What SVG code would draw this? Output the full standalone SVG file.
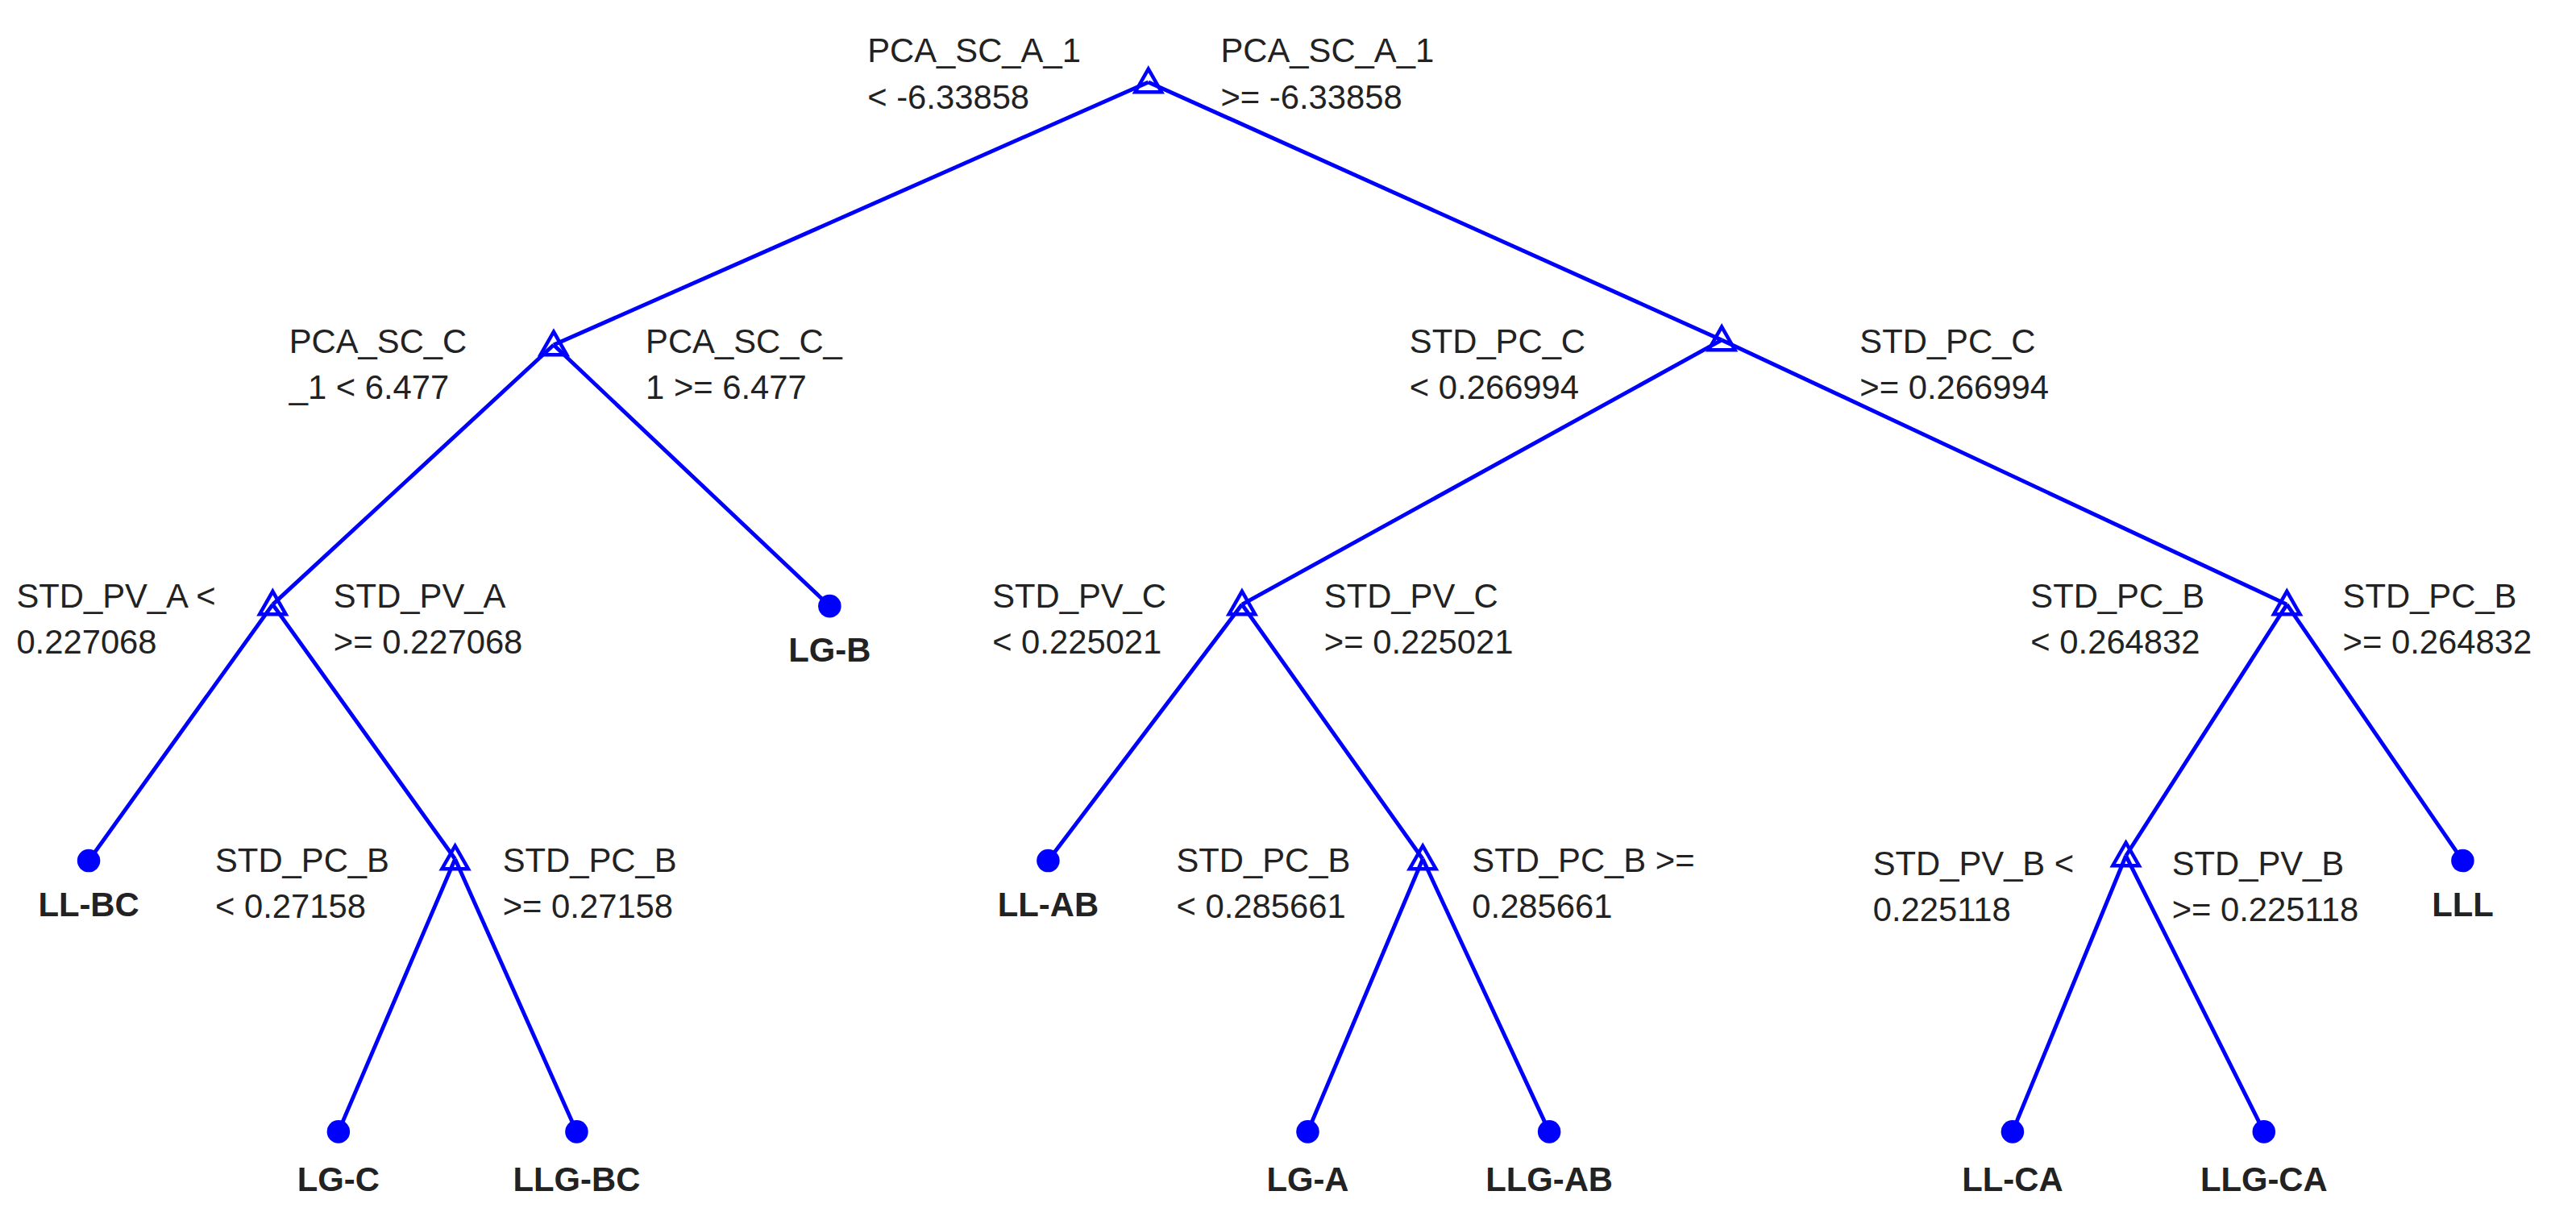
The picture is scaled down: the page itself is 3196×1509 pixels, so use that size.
<svg xmlns="http://www.w3.org/2000/svg" width="3196" height="1509" viewBox="0 0 3196 1509">
<style>
.e{stroke:#0000ff;stroke-width:2.4;fill:none}
.t{fill:none;stroke:#0000ff;stroke-width:2.2}
.d{fill:#0000ff}
text{font-family:"Liberation Sans",Arial,sans-serif;font-size:20.5px;fill:#222}
.b{font-weight:bold;text-anchor:middle}
</style>
<defs><path id="tri" class="t" d="M0,-8 L8,6 L-8,6 Z"/></defs>
<rect width="3196" height="1509" fill="#fff"/>
<g transform="scale(2.0383)">
<g id="connectors">
<path class="e" d="M699,50 L337,210 M699,50 L1048,207"/>
<path class="e" d="M337,210 L166,368 M337,210 L505,369"/>
<path class="e" d="M166,368 L54,524 M166,368 L277,523"/>
<path class="e" d="M277,523 L206,689 M277,523 L351,689"/>
<path class="e" d="M1048,207 L756,368 M1048,207 L1392,368"/>
<path class="e" d="M756,368 L638,524 M756,368 L866,523"/>
<path class="e" d="M866,523 L796,689 M866,523 L943,689"/>
<path class="e" d="M1392,368 L1294,521 M1392,368 L1499,524"/>
<path class="e" d="M1294,521 L1225,689 M1294,521 L1378,689"/>
</g>
<g id="n_root"><use href="#tri" x="699" y="50"/><text x="528" y="38">PCA_SC_A_1</text><text x="528" y="66">&lt; -6.33858</text><text x="743" y="38">PCA_SC_A_1</text><text x="743" y="66">&gt;= -6.33858</text></g>
<g id="n_pcasc"><use href="#tri" x="337" y="210"/><text x="176" y="215">PCA_SC_C</text><text x="176" y="243">_1 &lt; 6.477</text><text x="393" y="215">PCA_SC_C_</text><text x="393" y="243">1 &gt;= 6.477</text></g>
<g id="n_stdpcc"><use href="#tri" x="1048" y="207"/><text x="858" y="215">STD_PC_C</text><text x="858" y="243">&lt; 0.266994</text><text x="1132" y="215">STD_PC_C</text><text x="1132" y="243">&gt;= 0.266994</text></g>
<g id="n_stdpva"><use href="#tri" x="166" y="368"/><text x="10" y="370">STD_PV_A &lt;</text><text x="10" y="398">0.227068</text><text x="203" y="370">STD_PV_A</text><text x="203" y="398">&gt;= 0.227068</text></g>
<g id="n_stdpvc"><use href="#tri" x="756" y="368"/><text x="604" y="370">STD_PV_C</text><text x="604" y="398">&lt; 0.225021</text><text x="806" y="370">STD_PV_C</text><text x="806" y="398">&gt;= 0.225021</text></g>
<g id="n_stdpcb1"><use href="#tri" x="1392" y="368"/><text x="1236" y="370">STD_PC_B</text><text x="1236" y="398">&lt; 0.264832</text><text x="1426" y="370">STD_PC_B</text><text x="1426" y="398">&gt;= 0.264832</text></g>
<g id="n_stdpcb2"><use href="#tri" x="277" y="523"/><text x="131" y="531">STD_PC_B</text><text x="131" y="559">&lt; 0.27158</text><text x="306" y="531">STD_PC_B</text><text x="306" y="559">&gt;= 0.27158</text></g>
<g id="n_stdpcb3"><use href="#tri" x="866" y="523"/><text x="716" y="531">STD_PC_B</text><text x="716" y="559">&lt; 0.285661</text><text x="896" y="531">STD_PC_B &gt;=</text><text x="896" y="559">0.285661</text></g>
<g id="n_stdpvb"><use href="#tri" x="1294" y="521"/><text x="1140" y="533">STD_PV_B &lt;</text><text x="1140" y="561">0.225118</text><text x="1322" y="533">STD_PV_B</text><text x="1322" y="561">&gt;= 0.225118</text></g>
<g id="l_lgb"><circle class="d" cx="505" cy="369" r="7"/><text class="b" x="505" y="403">LG-B</text></g>
<g id="l_llbc"><circle class="d" cx="54" cy="524" r="7"/><text class="b" x="54" y="558">LL-BC</text></g>
<g id="l_lgc"><circle class="d" cx="206" cy="689" r="7"/><text class="b" x="206" y="725">LG-C</text></g>
<g id="l_llgbc"><circle class="d" cx="351" cy="689" r="7"/><text class="b" x="351" y="725">LLG-BC</text></g>
<g id="l_llab"><circle class="d" cx="638" cy="524" r="7"/><text class="b" x="638" y="558">LL-AB</text></g>
<g id="l_lga"><circle class="d" cx="796" cy="689" r="7"/><text class="b" x="796" y="725">LG-A</text></g>
<g id="l_llgab"><circle class="d" cx="943" cy="689" r="7"/><text class="b" x="943" y="725">LLG-AB</text></g>
<g id="l_lll"><circle class="d" cx="1499" cy="524" r="7"/><text class="b" x="1499" y="558">LLL</text></g>
<g id="l_llca"><circle class="d" cx="1225" cy="689" r="7"/><text class="b" x="1225" y="725">LL-CA</text></g>
<g id="l_llgca"><circle class="d" cx="1378" cy="689" r="7"/><text class="b" x="1378" y="725">LLG-CA</text></g>
</g>
</svg>
